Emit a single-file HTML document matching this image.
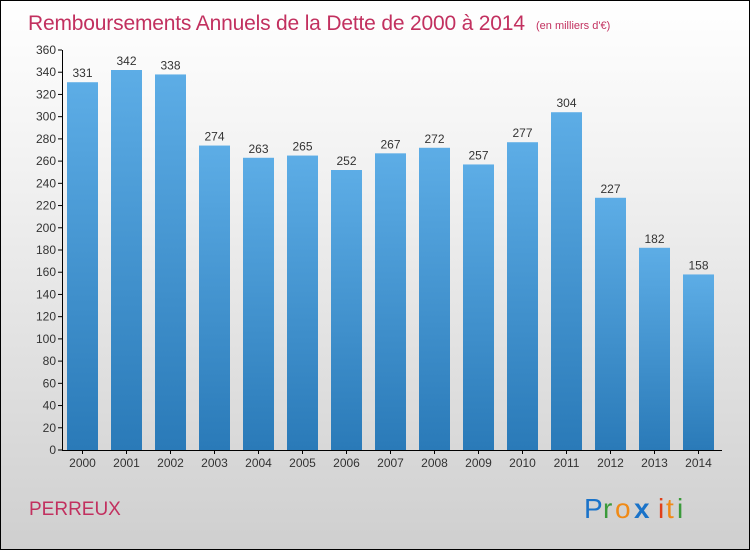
<!DOCTYPE html>
<html><head><meta charset="utf-8"><style>
body{margin:0}
#wrap{position:relative;width:748px;height:548px;border:1px solid #000;background:linear-gradient(#ffffff,#f2f2f2 30%,#cfcfcf);font-family:"Liberation Sans",sans-serif;overflow:hidden}
</style></head><body>
<div id="wrap">
<svg width="748" height="548" id="svg" font-family="'Liberation Sans',sans-serif">
<defs><linearGradient id="bg" x1="0" y1="0" x2="0" y2="1"><stop offset="0" stop-color="#5dade6"/><stop offset="1" stop-color="#2a7ab8"/></linearGradient></defs>
<text x="27" y="29" font-size="21" fill="#c2305f" textLength="497">Remboursements Annuels de la Dette de 2000 à 2014</text>
<text x="535" y="28" font-size="11" fill="#c2305f">(en milliers d'€)</text>
<text x="28" y="514" font-size="19" fill="#c2305f">PERREUX</text>
<g font-size="28">
<text x="583" y="517" fill="#1a73c9">P</text><text x="602" y="517" fill="#3a9a3a">r</text><text x="614" y="517" fill="#f08a16">o</text><text x="633" y="517" fill="#1a73c9" font-weight="bold">x</text><text x="657" y="517" fill="#e0401a">i</text><text x="665" y="517" fill="#f08a16">t</text><text x="676" y="517" fill="#3a9a3a">i</text></g>
<g id="g"></g>
</svg></div>
<script>
const years=["2000","2001","2002","2003","2004","2005","2006","2007","2008","2009","2010","2011","2012","2013","2014"];
const values=[331,342,338,274,263,265,252,267,272,257,277,304,227,182,158];
const ticks=[0,20,40,60,80,100,120,140,160,180,200,220,240,260,280,300,320,340,360];
const ns="http://www.w3.org/2000/svg",g=document.getElementById('g');
const y=v=>449-v*400/360, x=i=>81+i*44;
function mk(t,a,txt){const e=document.createElementNS(ns,t);for(const k in a)e.setAttribute(k,a[k]);if(txt!=null)e.textContent=txt;g.appendChild(e);return e;}
ticks.forEach(t=>{
 const l=mk('line',{x1:57,x2:61,y1:y(t),y2:y(t),stroke:'#000'});
 
 
 const s=mk('text',{x:55,y:y(t)+4,'text-anchor':'end','font-size':12,fill:'#333'},t);
 
 
});
values.forEach((v,i)=>{
 const r=mk('rect',{x:x(i)-15,y:y(v),width:31,height:y(0)-y(v),fill:'url(#bg)'});
 
 
 const t=mk('text',{x:x(i)+0.5,y:y(v)-5,'text-anchor':'middle','font-size':12,fill:'#333'},v);
 
 
 const xl=mk('text',{x:x(i)+0.5,y:466,'text-anchor':'middle','font-size':12,fill:'#333'},years[i]);
 
 
 const xt=mk('line',{x1:x(i)+0.5,x2:x(i)+0.5,y1:449,y2:453,stroke:'#000'});
 
 
});
const ya=mk('line',{x1:61.5,x2:61.5,y1:49,y2:449,stroke:'#000'});


const xa=mk('line',{x1:61,x2:721,y1:449.5,y2:449.5,stroke:'#000'});


</script>
</body></html>
